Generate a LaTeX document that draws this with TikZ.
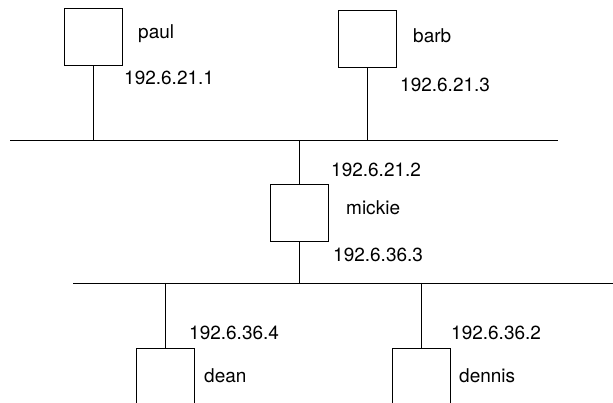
\documentclass[tikz,border=0pt]{standalone}
\usepackage{fontspec}
\setmainfont{TeX Gyre Heros}
\usetikzlibrary{positioning}

\tikzset{
  host/.style={draw, line width=0.9pt, minimum width=58pt, minimum height=57pt, inner sep=0pt},
  lbl/.style={anchor=base west, inner sep=0pt, font=\fontsize{19}{21}\selectfont},
  wire/.style={line width=0.9pt}
}

\begin{document}
\begin{tikzpicture}[x=1pt, y=-1pt]
        \clip (0,0) rectangle (613,403);

        % Reti
        \coordinate (netAw) at (10,140);
        \coordinate (netAe) at (558,140);
        \coordinate (netBw) at (73,283);
        \coordinate (netBe) at (613,283);
        \draw[wire] (netAw) -- (netAe);
        \draw[wire] (netBw) -- (netBe);

        % Host
        \node[host] (paul) at (93.5,36.5) {};
        \node[host] (barb) at (367.5,38.5) {};
        \node[host] (mickie) at (299.5,212.5) {};
        \node[host] (dean) at (165,377) {};
        \node[host] (dennis) at (421.5,377) {};

        % Collegamenti
        \draw[wire] (paul.south) -- (paul.south |- netAw);
        \draw[wire] (barb.south) -- (barb.south |- netAw);
        \draw[wire] (mickie.north) -- (mickie.north |- netAw);
        \draw[wire] (mickie.south) -- (mickie.south |- netBw);
        \draw[wire] (dean.north |- netBw) -- (dean.north);
        \draw[wire] (dennis.north |- netBw) -- (dennis.north);

        % Nomi e indirizzi
        \node[lbl] (paulname) at (138,39) {paul};
        \node[lbl] (paulip) at (124,85) {192.6.21.1};
        \node[lbl] (barbname) at (413,43) {barb};
        \node[lbl] (barbip) at (400,92) {192.6.21.3};
        \node[lbl] (mickieipA) at (331,177) {192.6.21.2};
        \node[lbl] (mickiename) at (346,215) {mickie};
        \node[lbl] (mickieipB) at (333,262) {192.6.36.3};
        \node[lbl] (deanip) at (189,339) {192.6.36.4};
        \node[lbl] (deanname) at (204,382) {dean};
        \node[lbl] (dennisip) at (451,339) {192.6.36.2};
        \node[lbl] (dennisname) at (459,382) {dennis};
    \end{tikzpicture}
\end{document}
